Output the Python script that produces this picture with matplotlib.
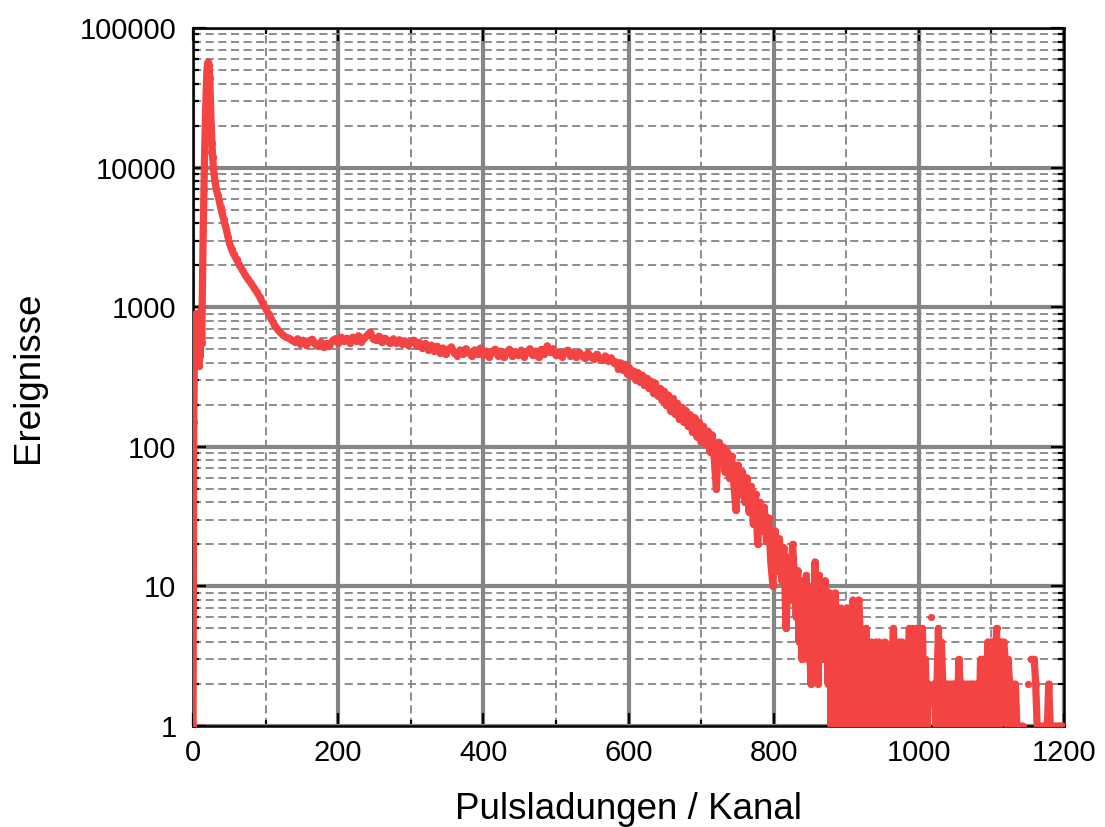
import numpy as np
import matplotlib
matplotlib.use("Agg")
import matplotlib.pyplot as plt
from matplotlib.ticker import FixedLocator, LogLocator, NullFormatter, FuncFormatter

plt.rcParams['font.family'] = ['Liberation Sans', 'DejaVu Sans']

# --- data (channel -> counts) ---
# steep start and the main peak, one value per channel
rise_ch = list(range(0, 31))
rise_counts = [1, 150, 500, 700, 900, 600, 400, 850, 380, 700,
               450, 950, 550, 1500, 3500, 7000, 13000, 22000, 34000, 48000,
               56000, 57000, 54000, 44000, 30000, 20000, 15000, 12000, 10000, 9000,
               8000]

# shoulder falling down to the plateau
shoulder_ch = [32, 34, 36, 38, 40, 42, 44, 46, 48, 50, 53, 56, 60, 64, 68, 72,
               76, 80, 84, 88, 92, 96, 100, 104, 108, 112, 116, 120, 124, 128]
shoulder_counts = [7000, 6400, 5800, 5200, 4700, 4300, 3900, 3600, 3200, 2900,
                   2600, 2400, 2200, 2000, 1850, 1700, 1580, 1480, 1380, 1280,
                   1180, 1070, 980, 900, 820, 750, 700, 660, 630, 610]

# plateau, every 4th channel from 132 to 580
plateau_ch = np.arange(132, 581, 4)
plateau_counts = [600, 580, 565, 595, 545, 580, 535, 565, 590, 545,
                  525, 565, 515, 550, 525, 575, 595, 555, 610, 570,
                  600, 555, 610, 575, 625, 565, 600, 630, 665, 595,
                  580, 620, 560, 600, 570, 550, 595, 555, 585, 545,
                  575, 535, 565, 580, 530, 560, 510, 550, 495, 535,
                  485, 525, 470, 510, 460, 500, 520, 470, 450, 495,
                  462, 505, 475, 445, 495, 462, 510, 455, 485, 440,
                  480, 500, 450, 485, 438, 475, 500, 445, 480, 452,
                  492, 442, 475, 505, 452, 485, 438, 498, 465, 530,
                  475, 505, 452, 480, 442, 475, 492, 448, 470, 438,
                  475, 448, 432, 470, 442, 428, 460, 432, 418, 448,
                  412, 435, 400]

# falling edge, every 3rd channel from 583 to 829
edge_ch = np.arange(583, 830, 3)
edge_counts = [405, 360, 400, 355, 390, 335, 370, 320, 350, 300,
               340, 290, 325, 275, 310, 262, 295, 245, 285, 232,
               262, 215, 250, 198, 235, 180, 222, 172, 205, 158,
               192, 150, 182, 140, 170, 128, 162, 118, 150, 108,
               140, 104, 130, 92, 122, 84, 50, 108, 78, 100,
               66, 92, 60, 86, 55, 35, 74, 46, 66, 40,
               60, 34, 52, 28, 46, 20, 40, 25, 37, 21,
               31, 15, 10, 25, 13, 22, 11, 19, 5, 16,
               8, 20, 11]

# low-count tail, every 2nd channel from 831 to 1199 (0 = empty channel)
tail_ch = np.arange(831, 1200, 2)
tail_counts = [6, 13, 4, 11, 3, 9, 5, 12, 3, 8,
               2, 10, 4, 15, 6, 2, 12, 5, 9, 3,
               11, 7, 2, 9, 1, 8, 1, 9, 1, 7,
               1, 7, 1, 6, 2, 7, 1, 7, 1, 8,
               1, 6, 1, 8, 5, 1, 4, 1, 5, 1,
               4, 2, 4, 1, 3, 4, 1, 4, 1, 3,
               1, 4, 3, 1, 3, 1, 3, 5, 1, 4,
               2, 4, 1, 4, 1, 3, 1, 3, 5, 1,
               5, 2, 5, 1, 3, 5, 2, 5, 1, 3,
               1, 2, 0, 6, 0, 2, 1, 2, 5, 1,
               4, 2, 1, 2, 1, 2, 1, 2, 2, 1,
               2, 1, 3, 2, 1, 2, 2, 1, 2, 1,
               2, 2, 1, 2, 1, 2, 1, 3, 3, 3,
               1, 1, 4, 1, 4, 4, 1, 1, 5, 1,
               1, 4, 4, 4, 3, 1, 3, 2, 2, 2,
               1, 2, 1, 1, 1, 1, 1, 0, 0, 0,
               2, 0, 3, 3, 3, 2, 1, 1, 1, 1,
               1, 1, 1, 1, 2, 1, 1, 1, 1, 1,
               1, 1, 1, 1, 1]

channels = np.concatenate([rise_ch, shoulder_ch, plateau_ch, edge_ch, tail_ch])
counts = np.concatenate([rise_counts, shoulder_counts, plateau_counts,
                         edge_counts, tail_counts]).astype(float)
counts[counts <= 0] = np.nan   # empty channels are not drawn on a log axis

x_ticks = [0, 200, 400, 600, 800, 1000, 1200]
x_minor = [100, 300, 500, 700, 900, 1100]
y_ticks = [1, 10, 100, 1000, 10000, 100000]

fig = plt.figure(figsize=(11.05, 8.27), dpi=100)
ax = fig.add_axes([0.1747, 0.1221, 0.7882, 0.844])

ax.plot(channels, counts, color='#f44343', lw=5.2, marker='o', ms=5.2,
        mew=0, solid_joinstyle='round', solid_capstyle='round', zorder=3)

ax.set_yscale('log')
ax.set_xlim(0, 1200)
ax.set_ylim(1, 100000)

ax.xaxis.set_major_locator(FixedLocator(x_ticks))
ax.xaxis.set_minor_locator(FixedLocator(x_minor))
ax.yaxis.set_major_locator(FixedLocator(y_ticks))
ax.yaxis.set_minor_locator(LogLocator(base=10, subs=np.arange(2, 10), numticks=20))
ax.yaxis.set_major_formatter(FuncFormatter(lambda v, p: '%d' % v))
ax.yaxis.set_minor_formatter(NullFormatter())

ax.set_axisbelow(True)
ax.grid(which='major', color='#858585', lw=3.0, ls='-')
ax.grid(which='minor', color='#858585', lw=1.3, ls=(0, (4.5, 2.5)))

ax.tick_params(which='both', direction='in', top=True, right=True,
               colors='black', labelsize=21, width=1.6)
ax.tick_params(which='major', length=9.5)
ax.tick_params(which='minor', length=4)
ax.tick_params(axis='x', pad=9)
ax.tick_params(axis='y', pad=12)

for s in ax.spines.values():
    s.set_linewidth(1.8)
    s.set_color('black')

ax.set_xlabel('Pulsladungen / Kanal', fontsize=26.5, labelpad=18)
ax.set_ylabel('Ereignisse', fontsize=26.5, labelpad=24)

fig.savefig('out.png', dpi=100)
